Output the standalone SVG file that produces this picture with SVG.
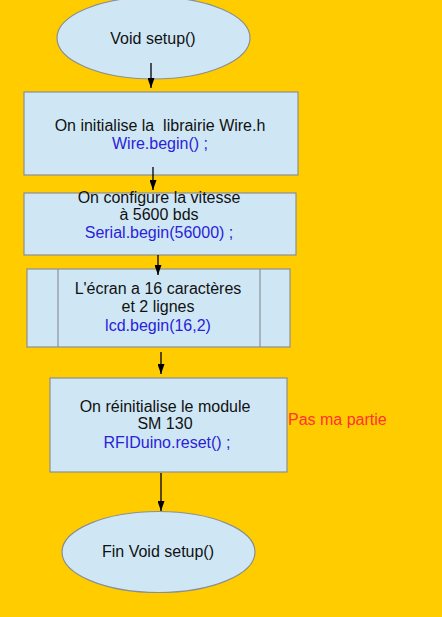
<svg xmlns="http://www.w3.org/2000/svg" width="442" height="617" viewBox="0 0 442 617">
<defs>
<style>
.n{fill:#cfe7f5;stroke:#8a8f96;stroke-width:1.2}
.t{font-family:"Liberation Sans",Arial,sans-serif;font-size:16px;fill:#111;text-anchor:middle}
.c{fill:#2a22d8}
.r{font-family:"Liberation Sans",Arial,sans-serif;font-size:16px;fill:#ff3333}
.e{stroke:#000;stroke-width:1.3;fill:none;marker-end:url(#a)}
</style>
<marker id="a" viewBox="0 0 10 7" refX="10" refY="3.5" markerWidth="10" markerHeight="7" markerUnits="userSpaceOnUse" orient="auto">
<path d="M0,0 L10,3.5 L0,7 z" fill="#000"/>
</marker>
</defs>
<rect width="442" height="617" fill="#ffcc00"/>
<g id="start">
<ellipse class="n" cx="153.5" cy="38" rx="96.5" ry="41"/>
<text class="t" x="153" y="44">Void setup()</text>
</g>
<g id="wire">
<rect class="n" x="24" y="92" width="274" height="83"/>
<text class="t" x="160" y="131" xml:space="preserve">On initialise la  librairie Wire.h</text>
<text class="t c" x="160" y="149">Wire.begin() ;</text>
</g>
<g id="serial">
<rect class="n" x="24" y="193" width="272" height="62"/>
<text class="t" x="159" y="203">On configure la vitesse</text>
<text class="t" x="159" y="220">à 5600 bds</text>
<text class="t c" x="159" y="238">Serial.begin(56000) ;</text>
</g>
<g id="lcd">
<rect class="n" x="27" y="269" width="263" height="78"/>
<line x1="58" y1="269" x2="58" y2="347" stroke="#8a8f96" stroke-width="1.2"/>
<line x1="260" y1="269" x2="260" y2="347" stroke="#8a8f96" stroke-width="1.2"/>
<text class="t" x="158" y="294">L'écran a 16 caractères</text>
<text class="t" x="158" y="312">et 2 lignes</text>
<text class="t c" x="158" y="331">lcd.begin(16,2)</text>
</g>
<g id="rfid">
<rect class="n" x="50" y="378" width="237" height="94"/>
<text class="t" x="165" y="412">On réinitialise le module</text>
<text class="t" x="165" y="429">SM 130</text>
<text class="t c" x="167" y="448">RFIDuino.reset() ;</text>
</g>
<g id="note">
<text class="r" x="288" y="425">Pas ma partie</text>
</g>
<g id="end">
<ellipse class="n" cx="158.5" cy="552" rx="96.5" ry="40.5"/>
<text class="t" x="158" y="557">Fin Void setup()</text>
</g>
<g id="connectors">
<line class="e" x1="151" y1="63" x2="151" y2="88"/>
<line class="e" x1="153" y1="167" x2="153" y2="190"/>
<line class="e" x1="158" y1="255" x2="158" y2="275"/>
<line class="e" x1="161" y1="352" x2="161" y2="374"/>
<line class="e" x1="161" y1="473" x2="161" y2="511"/>
</g>
</svg>
